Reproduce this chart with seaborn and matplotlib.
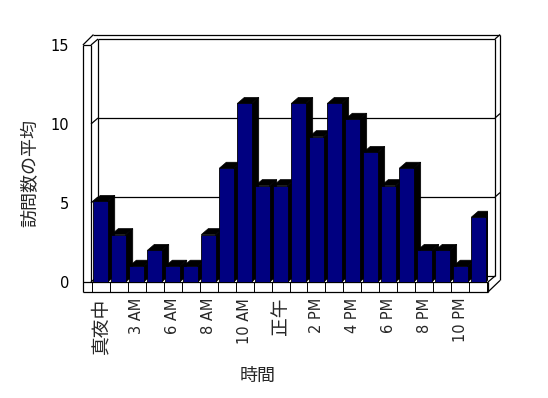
"""
Average visits per hour, drawn as an old-style 3D column chart.
"""

import matplotlib
matplotlib.use('Agg')
import matplotlib.pyplot as plt
from matplotlib.patches import Polygon
import seaborn as sns
import pandas as pd

# Data
hours = ['真夜中', '1 AM', '3 AM', '4 AM', '6 AM', '7 AM', '8 AM', '9 AM',
         '10 AM', '11 AM', '正午', '1 PM', '2 PM', '3 PM', '4 PM', '5 PM',
         '6 PM', '7 PM', '8 PM', '9 PM', '10 PM', '11 PM']
avg_visits = [5.1, 3.0, 1.0, 2.0, 1.0, 1.0, 3.0, 7.2, 11.3, 6.1, 6.1,
              11.3, 9.2, 11.3, 10.3, 8.2, 6.1, 7.2, 2.0, 2.0, 1.0, 4.1]
y_ticks = [0, 5, 10, 15]

x_label = '時間'
y_label = '訪問数の平均'

# 3D look (in data units)
XMIN, XMAX = -0.53, len(hours) - 0.47
YMAX = y_ticks[-1]
DX, DY = 0.39, 0.38        # depth offset of bars and walls
WALL = 0.45                # thickness of the left wall face
FLOOR = 0.63               # thickness of the floor strip
SLAB_X, SLAB_Y = 0.28, 0.28
NAVY = '#000080'
CJK = ['Noto Sans CJK JP', 'DejaVu Sans']


def line(ax, xs, ys, lw=0.9):
    ax.plot(xs, ys, color='black', lw=lw, clip_on=False, zorder=1,
            solid_capstyle='butt')


def draw_frame(ax):
    xl, xr = XMIN, XMAX
    xo = xl - WALL
    bxl, bxr = xl + DX, xr + DX
    # back wall
    line(ax, [bxl, bxl], [DY, YMAX + DY])
    line(ax, [bxr, bxr], [DY, YMAX + DY])
    line(ax, [bxl, bxr], [YMAX + DY, YMAX + DY])
    line(ax, [bxl, bxr], [DY, DY])
    # outer slab of the walls
    line(ax, [xo + DX + SLAB_X * 0.7, bxr + SLAB_X],
         [YMAX + DY + SLAB_Y, YMAX + DY + SLAB_Y])
    line(ax, [bxr, bxr + SLAB_X], [YMAX + DY, YMAX + DY + SLAB_Y])
    line(ax, [bxr + SLAB_X, bxr + SLAB_X], [0.1, YMAX + DY + SLAB_Y])
    # left wall front face
    line(ax, [xo, xo], [-FLOOR, YMAX])
    line(ax, [xl, xl], [0, YMAX])
    line(ax, [xo, xl], [YMAX, YMAX])
    line(ax, [xo, xo + DX + SLAB_X * 0.7], [YMAX, YMAX + DY + SLAB_Y])
    line(ax, [xl, bxl], [YMAX, YMAX + DY])
    # gridlines on the back wall
    for v in y_ticks[1:-1]:
        line(ax, [xl, bxl], [v, v + DY])
        line(ax, [bxl, bxr], [v + DY, v + DY])
        line(ax, [bxr, bxr + SLAB_X], [v + DY, v + DY + SLAB_Y])
    # floor strip with category dividers
    line(ax, [xo, xr], [0, 0])
    line(ax, [xo, xr], [-FLOOR, -FLOOR])
    for k in range(len(hours) + 1):
        xk = k - 0.5
        line(ax, [xk, xk], [-FLOOR, 0], lw=0.7)
    line(ax, [xr, xr], [-FLOOR, 0])
    line(ax, [xl, bxl], [0, DY])
    line(ax, [xr, bxr], [0, DY])
    line(ax, [xr, bxr + SLAB_X], [-FLOOR, 0.1])


def create_chart():
    df = pd.DataFrame({'hour': hours, 'visits': avg_visits})

    sns.set_style('white')
    plt.rcParams['font.family'] = ['DejaVu Sans', 'Noto Sans CJK JP']

    fig = plt.figure(figsize=(5.48, 3.98), dpi=100)
    ax = fig.add_axes([91 / 548, 116 / 398, 397 / 548, 237 / 398])

    sns.barplot(data=df, x='hour', y='visits', color=NAVY, saturation=1,
                width=0.8, edgecolor='black', linewidth=0.6, ax=ax,
                zorder=3)

    # sides and tops of the columns
    for bar in ax.patches[:len(hours)]:
        x0 = bar.get_x()
        x1 = x0 + bar.get_width()
        h = bar.get_height()
        side = Polygon([(x1, 0), (x1 + DX, DY), (x1 + DX, h + DY), (x1, h)],
                       closed=True, facecolor='black', edgecolor='black',
                       lw=0.5, zorder=2)
        top = Polygon([(x0, h), (x0 + DX, h + DY), (x1 + DX, h + DY), (x1, h)],
                      closed=True, facecolor='black', edgecolor='black',
                      lw=0.5, zorder=2)
        ax.add_patch(side)
        ax.add_patch(top)

    draw_frame(ax)

    ax.set_xlim(XMIN, XMAX)
    ax.set_ylim(0, YMAX)
    for s in ax.spines.values():
        s.set_visible(False)
    ax.patch.set_visible(False)

    ax.set_yticks(y_ticks)
    ax.set_yticklabels([str(v) for v in y_ticks], fontsize=10.5)
    ax.tick_params(axis='y', direction='out', length=5.8, width=0.9,
                   pad=10, colors='black')

    pos = list(range(0, len(hours), 2))
    ax.set_xticks(pos)
    ax.set_xticklabels([hours[i] for i in pos], rotation=90, va='top')
    ax.tick_params(axis='x', length=0, pad=11.5)
    for t in ax.get_xticklabels():
        if t.get_text().isascii():
            t.set_fontsize(10.5)
        else:
            t.set_fontsize(13.5)
            t.set_family(CJK)

    ax.set_xlabel(x_label, fontsize=13, family=CJK)
    ax.set_ylabel(y_label, fontsize=13, family=CJK)
    ax.xaxis.set_label_coords(0.42, -0.36)
    ax.yaxis.set_label_coords(-0.13, 0.46)

    fig.savefig('out.png', dpi=100)
    plt.close(fig)


if __name__ == '__main__':
    create_chart()
